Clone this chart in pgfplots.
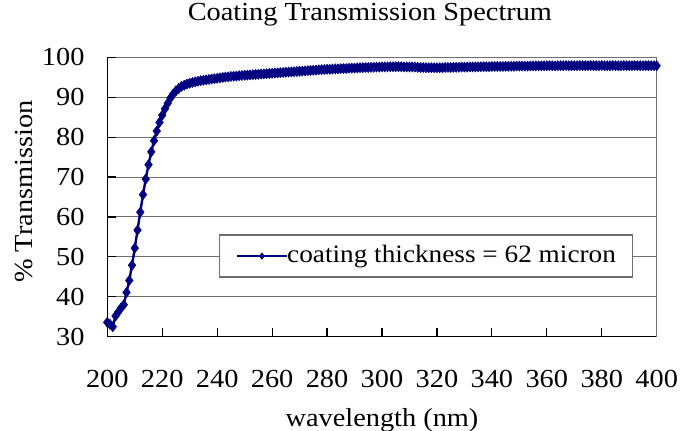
\documentclass[border=0pt]{standalone}
\usepackage{pgfplots}
\pgfplotsset{compat=1.18}
\usepackage{fontspec}
\setmainfont{Liberation Serif}[FakeStretch=1.09]
\definecolor{navy}{RGB}{0,0,128}
\definecolor{gridgray}{RGB}{110,110,110}
\begin{document}
\fontsize{13}{15}\selectfont
\begin{tikzpicture}
\useasboundingbox (-53.65pt,-46.65pt) rectangle (286.35pt,168.35pt);
\begin{axis}[
  at={(0,0)}, anchor=south west,
  scale only axis, width=274.7pt, height=139.7pt,
  xmin=200, xmax=400, ymin=30, ymax=100,
  xtick={200,220,...,400}, ytick={30,40,...,100},
  axis x line*=bottom, axis y line*=left,
  axis line style={black, line width=0.7pt},
  tick align=inside, major tick length=4.5pt,
  tick style={black, line width=0.6pt},
  ymajorgrids, grid style={gridgray, line width=0.5pt},
  extra x ticks={400}, extra x tick labels={},
  extra x tick style={grid=major, major tick length=0pt, xmajorgrids},
  clip=false,
  /pgf/number format/assume math mode=true,
  ticklabel style={font=\fontsize{13}{15}\selectfont},
  xticklabel style={anchor=base, inner sep=0pt, yshift=-25.6pt},
  yticklabel style={anchor=east, inner sep=0pt, xshift=-11.2pt},
  title={Coating Transmission Spectrum},
  title style={at={([yshift=12.5pt]rel axis cs:0.478,1)}, anchor=base, inner sep=0pt, font=\fontsize{13}{15}\selectfont},
  xlabel={wavelength (nm)},
  xlabel style={at={([yshift=-44.7pt]rel axis cs:0.5,0)}, anchor=base, inner sep=0pt, font=\fontsize{13}{15}\selectfont},
  ylabel={\% Transmission},
  ylabel style={at={([xshift=-37.35pt]rel axis cs:0,0.519)}, rotate=0, anchor=base, inner sep=0pt, font=\fontsize{13}{15}\selectfont},
  legend style={draw=gridgray, line width=0.6pt, fill=white,
    at={(rel axis cs:0.9574,0.2112)}, anchor=south east,
    inner xsep=8.4pt, inner ysep=5.2pt,
    nodes={inner sep=0pt, font=\fontsize{12.5}{14}\selectfont},
    /tikz/every even column/.style={column sep=3.3pt}},
  legend image code/.code={\draw[#1, line width=0.6pt, mark size=1.6pt, mark repeat=2, mark phase=2] plot coordinates {(0pt,0pt)(12.35pt,0pt)(24.7pt,0pt)};},
]
\addplot[navy, line width=1.2pt, mark=diamond*, mark size=2.5pt, mark options={solid, fill=navy, draw=navy, line width=0.3pt}] coordinates {
(200,33.6)(201,33.1)(202,32.5)(203,35.2)(204,36.2)(205,37.2)(206,38.0)(207,41.1)(208,44.1)(209,47.9)
(210,52.2)(211,56.7)(212,61.2)(213,65.6)(214,69.5)(215,73.1)(216,76.3)(217,79.1)(218,81.5)(219,83.7)
(220,85.5)(221,87.1)(222,88.5)(223,89.8)(224,90.8)(225,91.6)(226,92.2)(227,92.7)(228,93.0)(229,93.3)
(230,93.5)(231,93.7)(232,93.85)(233,94.0)(234,94.15)(235,94.25)(236,94.35)(237,94.45)(238,94.55)(239,94.65)
(240,94.75)(241,94.85)(242,94.95)(243,95.05)(244,95.1)(245,95.2)(246,95.25)(247,95.3)(248,95.4)(249,95.45)
(250,95.5)(251,95.55)(252,95.6)(253,95.65)(254,95.7)(255,95.75)(256,95.8)(257,95.85)(258,95.9)(259,95.95)
(260,96.0)(261,96.05)(262,96.1)(263,96.15)(264,96.2)(265,96.25)(266,96.3)(267,96.35)(268,96.4)(269,96.45)
(270,96.5)(271,96.55)(272,96.6)(273,96.65)(274,96.7)(275,96.75)(276,96.8)(277,96.85)(278,96.9)(279,96.95)
(280,97.0)(281,97.0)(282,97.05)(283,97.1)(284,97.1)(285,97.15)(286,97.2)(287,97.2)(288,97.25)(289,97.3)
(290,97.3)(291,97.35)(292,97.4)(293,97.4)(294,97.45)(295,97.45)(296,97.5)(297,97.5)(298,97.55)(299,97.55)
(300,97.6)(301,97.6)(302,97.6)(303,97.65)(304,97.65)(305,97.65)(306,97.65)(307,97.65)(308,97.6)(309,97.6)
(310,97.6)(311,97.6)(312,97.55)(313,97.5)(314,97.45)(315,97.45)(316,97.4)(317,97.4)(318,97.4)(319,97.4)
(320,97.4)(321,97.4)(322,97.4)(323,97.45)(324,97.45)(325,97.45)(326,97.5)(327,97.5)(328,97.5)(329,97.55)
(330,97.55)(331,97.55)(332,97.6)(333,97.6)(334,97.6)(335,97.6)(336,97.65)(337,97.65)(338,97.65)(339,97.65)
(340,97.7)(341,97.7)(342,97.7)(343,97.7)(344,97.7)(345,97.75)(346,97.75)(347,97.75)(348,97.75)(349,97.8)
(350,97.8)(351,97.8)(352,97.8)(353,97.8)(354,97.85)(355,97.85)(356,97.85)(357,97.85)(358,97.85)(359,97.9)
(360,97.9)(361,97.9)(362,97.9)(363,97.85)(364,97.9)(365,97.9)(366,97.9)(367,97.95)(368,97.9)(369,97.9)
(370,97.9)(371,97.9)(372,97.95)(373,97.9)(374,97.9)(375,97.9)(376,97.95)(377,97.9)(378,97.9)(379,97.9)
(380,97.95)(381,97.9)(382,97.9)(383,97.9)(384,97.95)(385,97.9)(386,97.9)(387,97.9)(388,97.95)(389,97.9)
(390,97.9)(391,97.9)(392,97.95)(393,97.9)(394,97.9)(395,97.9)(396,97.9)(397,97.9)(398,97.9)(399,97.9)
(400,97.9)
};
\addlegendentry{coating thickness = 62 micron}
\end{axis}
\end{tikzpicture}
\end{document}
